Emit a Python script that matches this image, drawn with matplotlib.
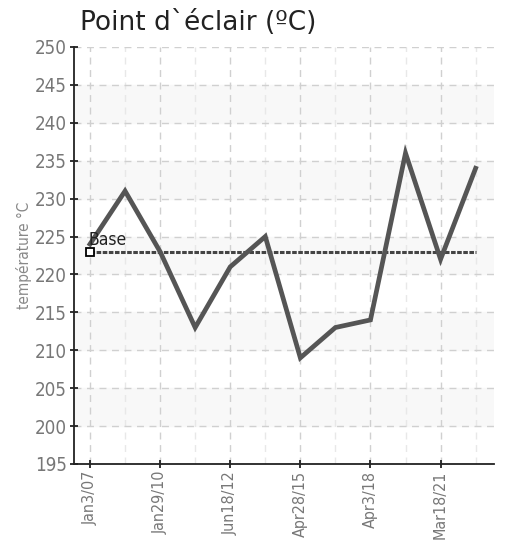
import matplotlib
matplotlib.use('Agg')
import matplotlib.pyplot as plt
from matplotlib import font_manager
import numpy as np

# data
values = [224, 231, 223, 213, 221, 225, 209, 213, 214, 236, 222, 234]
tick_labels = ['Jan3/07', 'Jan29/10', 'Jun18/12', 'Apr28/15', 'Apr3/18', 'Mar18/21']
base_value = 223

# look for a regular condensed face (by file name), fall back to DejaVu Sans
paths = set(font_manager.findSystemFonts())
paths.update(f.fname for f in font_manager.fontManager.ttflist)
cond_path = None
for p in sorted(paths):
    low = p.lower().replace('\\', '/').split('/')[-1]
    if ('condensed' in low or 'narrow' in low) and not any(
            k in low for k in ('bold', 'italic', 'oblique', 'light', 'black')):
        cond_path = p
        break
if cond_path is not None:
    narrow = font_manager.FontProperties(fname=cond_path)
else:
    narrow = font_manager.FontProperties(family='DejaVu Sans', stretch='condensed')

fig = plt.figure(figsize=(5.06, 5.43), dpi=100)
ax = fig.add_axes([0.146, 0.1455, 0.830, 0.768])

x = np.arange(len(values))

# alternating background bands
for lo in range(200, 250, 10):
    ax.axhspan(lo, lo + 5, color='#f8f8f8', zorder=0)

ax.plot(x, values, color='#555555', lw=3.4, solid_joinstyle='miter', zorder=3)
ax.plot([x[0], x[-1]], [base_value, base_value], color='#444444', lw=2.2,
        ls=(0, (1.5, 0.5)), zorder=2)
ax.plot([x[0]], [base_value], marker='s', ms=6, mfc='white', mec='black',
        mew=1.3, ls='none', zorder=4)
base_fp = narrow.copy()
base_fp.set_size(12.5)
ax.text(x[0] - 0.05, base_value + 0.4, 'Base', fontproperties=base_fp,
        color='#222222', va='bottom', ha='left', zorder=5)

ax.set_xlim(-0.46, 11.52)
ax.set_ylim(195, 250)
ax.set_yticks(np.arange(195, 251, 5))
ax.set_xticks(x[::2])
ax.set_xticklabels(tick_labels, rotation=90)
ax.set_xticks(x[1::2], minor=True)

ax.grid(True, which='major', color='#d0d0d0', ls=(0, (5, 4)), lw=1)
ax.grid(True, which='minor', axis='x', color='#e8e8e8', ls=(0, (5, 4)), lw=1)
ax.set_axisbelow(True)

for s in ['top', 'right']:
    ax.spines[s].set_visible(False)
ax.spines['left'].set_color('#222222')
ax.spines['bottom'].set_color('#222222')
ax.spines['left'].set_linewidth(1.3)
ax.spines['bottom'].set_linewidth(1.3)

ax.tick_params(which='major', direction='inout', length=6, width=1.3,
               color='#222222', labelcolor='#777777', pad=2)
ax.tick_params(which='minor', length=0)
ytick_fp = narrow.copy()
ytick_fp.set_size(13.5)
xtick_fp = narrow.copy()
xtick_fp.set_size(11.5)
for lbl in ax.get_yticklabels():
    lbl.set_fontproperties(ytick_fp)
for lbl in ax.get_xticklabels():
    lbl.set_fontproperties(xtick_fp)

ylab_fp = narrow.copy()
ylab_fp.set_size(11)
ax.set_ylabel('température °C', fontproperties=ylab_fp, color='#888888',
              labelpad=2)
fig.text(0.158, 0.957, 'Point d`éclair (ºC)', fontsize=19, color='#222222',
         ha='left', va='center')

fig.savefig('out.png', dpi=100)
